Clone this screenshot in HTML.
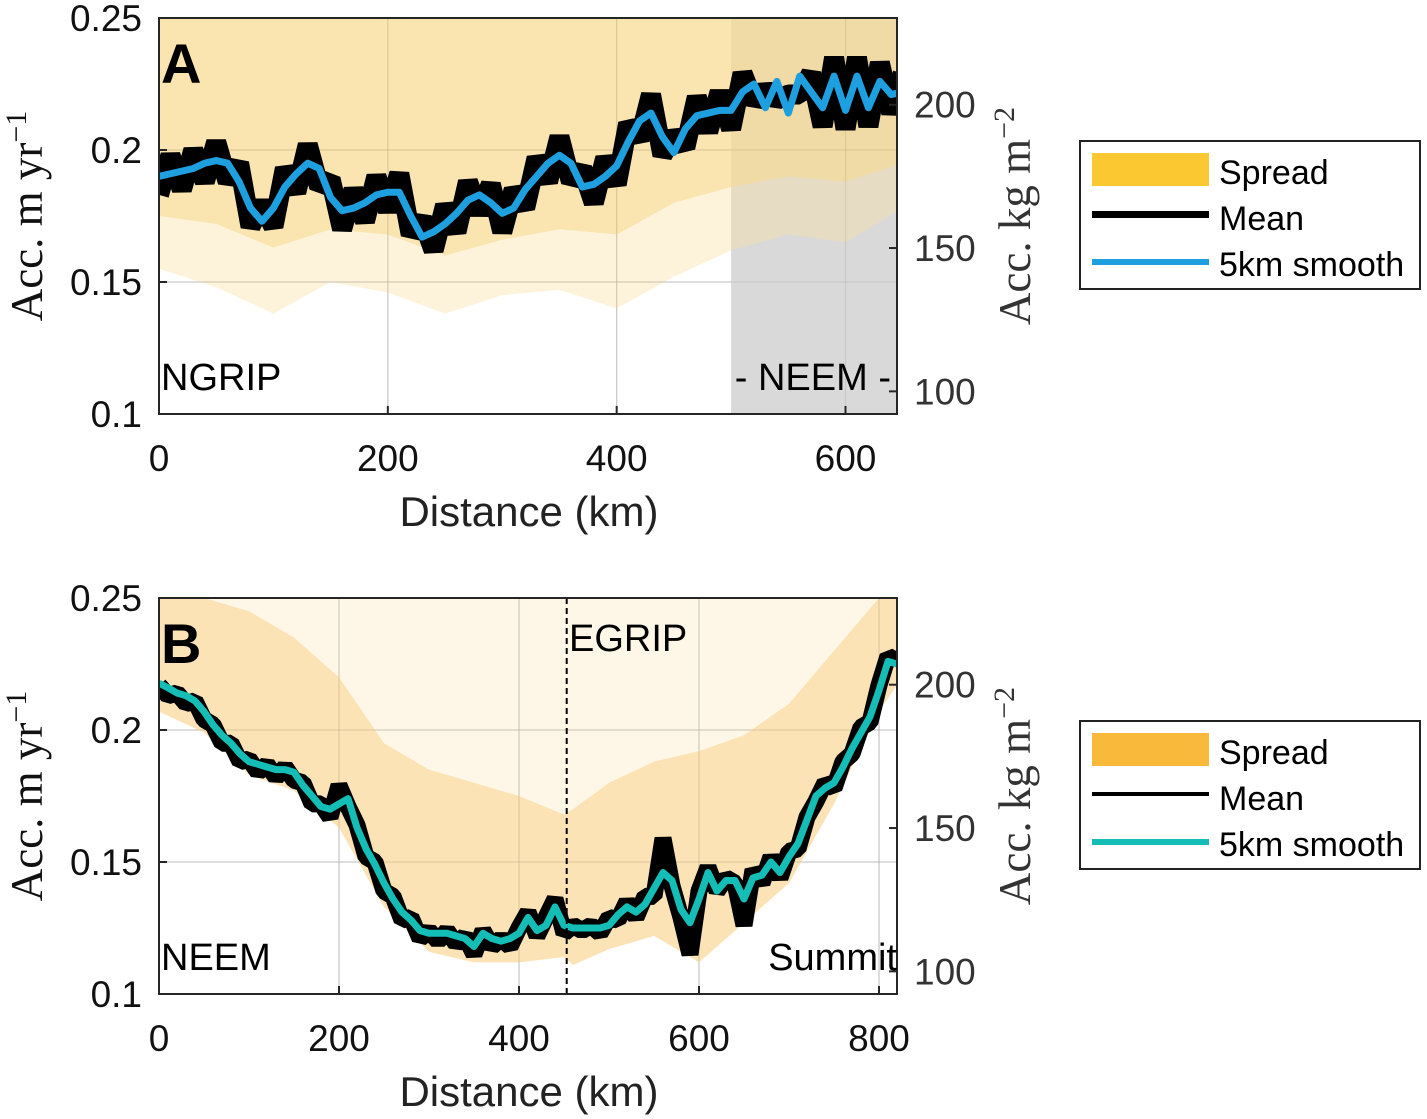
<!DOCTYPE html>
<html><head><meta charset="utf-8"><style>
html,body{margin:0;padding:0;background:#fff}
svg{display:block}
text{font-family:"Liberation Sans",sans-serif}
.tk{font-size:37px;fill:#111}
.tkr{font-size:37px;fill:#333}
.ser{font-family:"Liberation Serif",serif;font-size:45px}
</style></head><body>
<svg id="fig" width="1427" height="1119" viewBox="0 0 1427 1119" xmlns="http://www.w3.org/2000/svg">
<defs>
<clipPath id="clipA"><rect x="159" y="18" width="738" height="396"/></clipPath>
<clipPath id="clipB"><rect x="159" y="598" width="738" height="396"/></clipPath>
</defs>
<g id="panelA"></g>
<g id="panelB"></g>

<g>
<rect x="1080" y="141" width="340" height="148" fill="#fff" stroke="#222" stroke-width="2"/>
<rect x="1092" y="153" width="117" height="33" fill="#fbc832"/>
<text x="1219" y="184" font-size="34">Spread</text>
<rect x="1092" y="211" width="117" height="7" fill="#000"/>
<text x="1219" y="230" font-size="34">Mean</text>
<rect x="1092" y="259" width="117" height="6" fill="#1ea0e0"/>
<text x="1219" y="276" font-size="34">5km smooth</text>
</g>
<g>
<rect x="1080" y="721" width="340" height="148" fill="#fff" stroke="#222" stroke-width="2"/>
<rect x="1092" y="733" width="117" height="33" fill="#f9ba3c"/>
<text x="1219" y="764" font-size="34">Spread</text>
<rect x="1092" y="792" width="117" height="4" fill="#000"/>
<text x="1219" y="810" font-size="34">Mean</text>
<rect x="1092" y="839" width="117" height="6" fill="#14bdb5"/>
<text x="1219" y="856" font-size="34">5km smooth</text>
</g>
</svg>
<script>
// ---------- Panel A data (10 km steps, 0..650) ----------
const distA = [0,10,20,30,40,50,60,70,80,90,100,110,120,130,140,150,160,170,180,190,200,210,220,230,240,250,260,270,280,290,300,310,320,330,340,350,360,370,380,390,400,410,420,430,440,450,460,470,480,490,500,510,520,530,540,550,560,570,580,590,600,610,620,630,640,650];
const meanA = [0.183,0.198,0.185,0.200,0.188,0.203,0.188,0.195,0.171,0.180,0.171,0.193,0.184,0.202,0.186,0.189,0.170,0.185,0.173,0.190,0.177,0.191,0.168,0.174,0.162,0.179,0.169,0.188,0.176,0.187,0.169,0.185,0.178,0.197,0.188,0.205,0.188,0.193,0.180,0.197,0.187,0.210,0.204,0.221,0.198,0.206,0.201,0.220,0.207,0.222,0.208,0.229,0.218,0.223,0.219,0.221,0.221,0.229,0.209,0.235,0.208,0.235,0.209,0.233,0.214,0.229];
const smoothA = [0.190,0.191,0.192,0.193,0.195,0.196,0.195,0.188,0.178,0.173,0.178,0.186,0.191,0.195,0.193,0.182,0.177,0.178,0.180,0.183,0.184,0.184,0.175,0.167,0.169,0.172,0.176,0.181,0.183,0.180,0.176,0.178,0.185,0.190,0.195,0.198,0.195,0.186,0.187,0.190,0.194,0.203,0.211,0.214,0.205,0.199,0.208,0.213,0.214,0.215,0.215,0.222,0.225,0.216,0.226,0.214,0.228,0.222,0.216,0.228,0.215,0.228,0.216,0.226,0.221,0.222];
const spreadDistA = [0,50,100,150,200,250,300,350,400,450,500,550,600,650];
const spreadUpperA = [0.25,0.25,0.25,0.25,0.25,0.25,0.25,0.25,0.25,0.25,0.25,0.25,0.25,0.25];
const spreadLowerA = [0.155,0.148,0.138,0.150,0.146,0.138,0.145,0.147,0.140,0.152,0.162,0.168,0.165,0.178];
const denseUpperA = [0.25,0.25,0.25,0.25,0.25,0.25,0.25,0.25,0.25,0.25,0.25,0.25,0.25,0.25];
const denseLowerA = [0.175,0.172,0.163,0.170,0.168,0.160,0.166,0.170,0.168,0.180,0.186,0.190,0.188,0.195];
const yTicksA = [0.1,0.15,0.2,0.25];
const yTickLabelsA = ["0.1","0.15","0.2","0.25"];
const xTicksA = [0,200,400,600];
const rTicks = [100,150,200];

// ---------- Panel B data (10 km steps, 0..820) ----------
const distB = [0,10,20,30,40,50,60,70,80,90,100,110,120,130,140,150,160,170,180,190,200,210,220,230,240,250,260,270,280,290,300,310,320,330,340,350,360,370,380,390,400,410,420,430,440,450,460,470,480,490,500,510,520,530,540,550,560,570,580,590,600,610,620,630,640,650,660,670,680,690,700,710,720,730,740,750,760,770,780,790,800,810,820];
const smoothB = [0.2177,0.216,0.214,0.213,0.211,0.207,0.202,0.198,0.195,0.191,0.188,0.187,0.186,0.185,0.185,0.184,0.179,0.175,0.171,0.170,0.172,0.174,0.163,0.155,0.149,0.142,0.136,0.131,0.128,0.124,0.123,0.123,0.123,0.122,0.121,0.118,0.123,0.121,0.120,0.121,0.123,0.129,0.124,0.126,0.133,0.126,0.125,0.125,0.125,0.125,0.126,0.130,0.133,0.131,0.134,0.140,0.146,0.143,0.132,0.127,0.136,0.146,0.139,0.143,0.143,0.136,0.144,0.145,0.150,0.146,0.152,0.157,0.166,0.175,0.178,0.180,0.186,0.193,0.199,0.205,0.215,0.226,0.225];
const meanB = [0.217,0.213,0.214,0.210,0.211,0.204,0.202,0.195,0.195,0.188,0.189,0.184,0.187,0.182,0.186,0.181,0.180,0.172,0.172,0.167,0.179,0.171,0.164,0.152,0.150,0.139,0.137,0.128,0.129,0.121,0.124,0.120,0.124,0.119,0.122,0.115,0.124,0.118,0.121,0.118,0.125,0.131,0.122,0.129,0.136,0.123,0.126,0.124,0.126,0.123,0.129,0.128,0.135,0.129,0.137,0.137,0.159,0.141,0.129,0.115,0.139,0.148,0.139,0.144,0.142,0.126,0.147,0.142,0.152,0.144,0.154,0.155,0.167,0.173,0.180,0.178,0.188,0.191,0.201,0.203,0.217,0.228,0.226];
const spreadDistB = [0,50,100,150,200,250,300,350,400,450,460,500,550,600,650,700,750,800,820];
const denseUpperB = [0.25,0.25,0.245,0.235,0.22,0.195,0.185,0.18,0.175,0.168,0.17,0.18,0.188,0.192,0.198,0.21,0.23,0.25,0.25];
const spreadUpperB = [0.25,0.25,0.25,0.25,0.25,0.25,0.25,0.25,0.25,0.25,0.25,0.25,0.25,0.25,0.25,0.25,0.25,0.25,0.25];
const spreadLowerB = [0.207,0.199,0.183,0.177,0.163,0.133,0.116,0.112,0.112,0.114,0.111,0.117,0.122,0.112,0.127,0.142,0.172,0.207,0.217];
const yTicksB = [0.1,0.15,0.2,0.25];
const xTicksB = [0,200,400,600,800];

const NS = "http://www.w3.org/2000/svg";
function mk(parent, tag, attrs) {
  const e = document.createElementNS(NS, tag);
  for (const k in attrs) e.setAttribute(k, attrs[k]);
  parent.appendChild(e);
  return e;
}
const L = 159, R = 897;
function makeAxes(top, xmax) {
  const bottom = top + 396;
  return {
    top, bottom, xmax,
    x: d => L + d / xmax * (R - L),
    y: v => bottom - (v - 0.1) / 0.15 * 396,
    yr: kg => bottom - (kg / 921 - 0.1) / 0.15 * 396
  };
}
const axA = makeAxes(18, 645);
const axB = makeAxes(598, 820);

function poly(dist, up, lo, ax) {
  let s = "";
  for (let i = 0; i < dist.length; i++) s += ax.x(dist[i]) + "," + ax.y(up[i]) + " ";
  for (let i = dist.length - 1; i >= 0; i--) s += ax.x(dist[i]) + "," + ax.y(lo[i]) + " ";
  return s;
}
function line(dist, vals, ax) {
  return dist.map((d, i) => ax.x(d) + "," + ax.y(vals[i])).join(" ");
}
function drawFrame(g, ax, xTicks) {
  for (const t of xTicks) {
    const gl = mk(g, "line", {x1: ax.x(t), x2: ax.x(t), y1: ax.top, y2: ax.bottom, stroke: "#dcdcdc", "stroke-width": 1.3});
    
    
  }
  for (const t of yTicksA) {
    const gl = mk(g, "line", {x1: L, x2: R, y1: ax.y(t), y2: ax.y(t), stroke: "#dcdcdc", "stroke-width": 1.3});
    
    
  }
}
function gridOver(c, ax, xTicks) {
  for (const t of xTicks) {
    const gl = mk(c, "line", {x1: ax.x(t), x2: ax.x(t), y1: ax.top, y2: ax.bottom, stroke: "#000", "stroke-opacity": 0.08, "stroke-width": 1.3});
    
    
  }
  for (const t of yTicksA) {
    const gl = mk(c, "line", {x1: L, x2: R, y1: ax.y(t), y2: ax.y(t), stroke: "#000", "stroke-opacity": 0.08, "stroke-width": 1.3});
    
    
  }
}
function drawAxes(g, ax, xTicks, tickLabelY, titleY, yLabelCY) {
  const box = mk(g, "rect", {x: L, y: ax.top, width: R - L, height: 396, fill: "none", stroke: "#262626", "stroke-width": 2});
  
  
  for (const t of xTicks) {
    const tk = mk(g, "line", {x1: ax.x(t), x2: ax.x(t), y1: ax.bottom, y2: ax.bottom - 8, stroke: "#262626", "stroke-width": 2});
    
    
    const tl = mk(g, "text", {x: ax.x(t), y: tickLabelY, "text-anchor": "middle", class: "tk"});
    
    
    tl.textContent = String(t);
  }
  yTicksA.forEach((t, i) => {
    const tk = mk(g, "line", {x1: L, x2: L + 8, y1: ax.y(t), y2: ax.y(t), stroke: "#262626", "stroke-width": 2});
    
    
    const tl = mk(g, "text", {x: 142, y: ax.y(t) + 13, "text-anchor": "end", class: "tk"});
    
    
    tl.textContent = yTickLabelsA[i];
  });
  for (const t of rTicks) {
    const tk = mk(g, "line", {x1: R, x2: R - 8, y1: ax.yr(t), y2: ax.yr(t), stroke: "#262626", "stroke-width": 2});
    
    
    const tl = mk(g, "text", {x: 914, y: ax.yr(t) + 13, class: "tkr"});
    
    
    tl.textContent = String(t);
  }
  const xt = mk(g, "text", {x: 529, y: titleY, "text-anchor": "middle", "font-size": 42, fill: "#222"});
  
  
  xt.textContent = "Distance (km)";
  const yl = mk(g, "text", {x: 0, y: 0, "text-anchor": "middle", class: "ser", fill: "#111", transform: `translate(42,${yLabelCY}) rotate(-90)`});
  
  
  yl.innerHTML = 'Acc.  m  yr<tspan dy="-16" font-size="30">−1</tspan>';
  const yr = mk(g, "text", {x: 0, y: 0, "text-anchor": "middle", class: "ser", fill: "#333", transform: `translate(1030,${yLabelCY}) rotate(-90)`});
  
  
  yr.innerHTML = 'Acc.  kg  m<tspan dy="-16" font-size="30">−2</tspan>';
}

// ---------- Panel A ----------
(function () {
  const g = document.getElementById("panelA");
  const ax = axA;
  const grey = mk(g, "rect", {x: ax.x(500), y: ax.top, width: R - ax.x(500), height: 396, fill: "#d9d9d9"});
  
  
  drawFrame(g, ax, xTicksA);
  const c = mk(g, "g", {"clip-path": "url(#clipA)"});
  const sp = mk(c, "polygon", {points: poly(spreadDistA, spreadUpperA, spreadLowerA, ax), fill: "#fbe2a4", opacity: 0.4});
  
  
  const sd = mk(c, "polygon", {points: poly(spreadDistA, denseUpperA, denseLowerA, ax), fill: "#f8d88c", opacity: 0.55});
  
  
  gridOver(c, ax, xTicksA);
  const mn = mk(c, "polyline", {points: line(distA, meanA, ax), fill: "none", stroke: "#000", "stroke-width": 20, "stroke-linejoin": "bevel"});
  
  
  const sm = mk(c, "polyline", {points: line(distA, smoothA, ax), fill: "none", stroke: "#1ea0e0", "stroke-width": 7, "stroke-linejoin": "round"});
  
  
  drawAxes(g, ax, xTicksA, 471, 526, 216);
  const lab = mk(g, "text", {x: 161, y: 83, "font-size": 56, "font-weight": "bold"});
  
  
  lab.textContent = "A";
  const t1 = mk(g, "text", {x: 161, y: 390, "font-size": 38});
  
  
  t1.textContent = "NGRIP";
  const t2 = mk(g, "text", {x: 891, y: 390, "font-size": 38, "text-anchor": "end"});
  
  
  t2.textContent = "- NEEM -";
})();

// ---------- Panel B ----------
(function () {
  const g = document.getElementById("panelB");
  const ax = axB;
  drawFrame(g, ax, xTicksB);
  const c = mk(g, "g", {"clip-path": "url(#clipB)"});
  const sp = mk(c, "polygon", {points: poly(spreadDistB, spreadUpperB, spreadLowerB, ax), fill: "#fde8bd", opacity: 0.35});
  
  
  const sd = mk(c, "polygon", {points: poly(spreadDistB, denseUpperB, spreadLowerB, ax), fill: "#fbdca4", opacity: 0.75});
  
  
  gridOver(c, ax, xTicksB);
  const mn = mk(c, "polyline", {points: line(distB, meanB, ax), fill: "none", stroke: "#000", "stroke-width": 17, "stroke-linejoin": "bevel"});
  
  
  const sm = mk(c, "polyline", {points: line(distB, smoothB, ax), fill: "none", stroke: "#14bdb5", "stroke-width": 7, "stroke-linejoin": "round"});
  
  
  const dl = mk(g, "line", {x1: ax.x(453), x2: ax.x(453), y1: ax.top, y2: ax.bottom, stroke: "#000", "stroke-width": 2, "stroke-dasharray": "6,4"});
  
  
  drawAxes(g, ax, xTicksB, 1051, 1106, 796);
  const lab = mk(g, "text", {x: 161, y: 663, "font-size": 56, "font-weight": "bold"});
  
  
  lab.textContent = "B";
  const t0 = mk(g, "text", {x: 569, y: 651, "font-size": 38});
  
  
  t0.textContent = "EGRIP";
  const t1 = mk(g, "text", {x: 161, y: 970, "font-size": 38});
  
  
  t1.textContent = "NEEM";
  const t2 = mk(g, "text", {x: 897, y: 970, "font-size": 38, "text-anchor": "end"});
  
  
  t2.textContent = "Summit";
})();
</script>
</body></html>
